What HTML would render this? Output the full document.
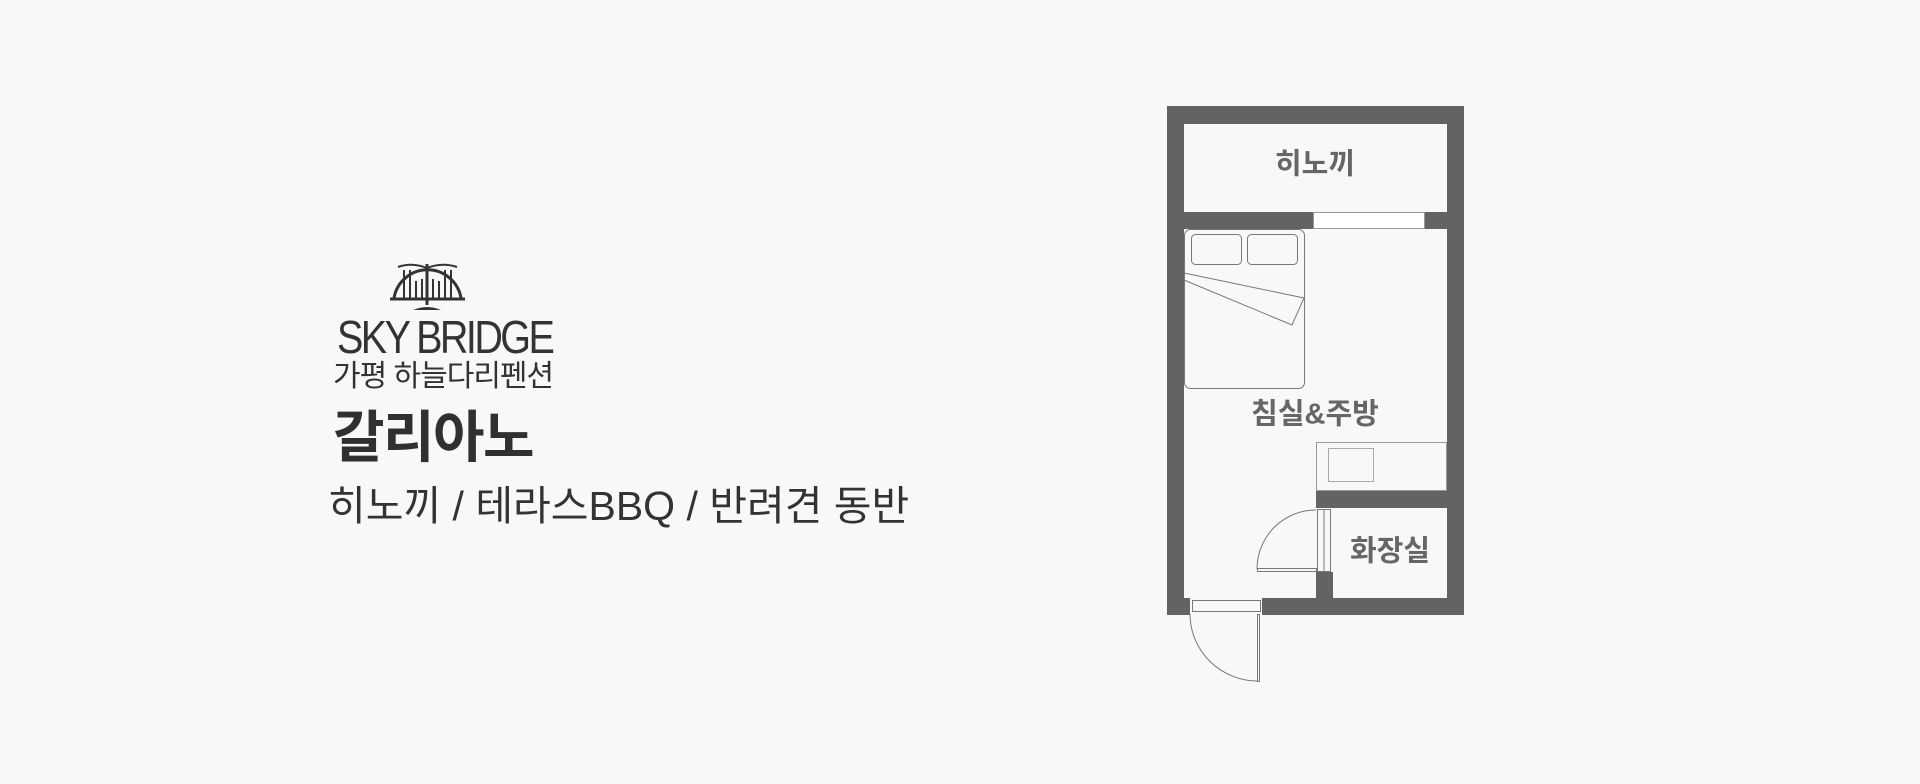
<!DOCTYPE html>
<html><head><meta charset="utf-8"><style>
body{margin:0;width:1920px;height:784px;background:#f8f8f8;overflow:hidden;position:relative;font-family:"Liberation Sans","Noto Sans CJK KR",sans-serif}
.t{position:absolute;white-space:nowrap;color:#333;line-height:1}
.c{transform:translate(-50%,-50%);font-size:29px;font-weight:bold;color:#666}
</style></head><body>
<svg style="position:absolute;left:0;top:0" width="1920" height="784">
<g stroke="#333" fill="none" stroke-width="2">
<path d="M394 298 A34 34 0 0 1 461 298" stroke-width="3"/>
<line x1="390" y1="299" x2="465" y2="299" stroke-width="3"/>
<line x1="404" y1="270" x2="404" y2="298"/><line x1="451" y1="270" x2="451" y2="298"/>
<line x1="410" y1="270" x2="410" y2="298"/><line x1="445" y1="270" x2="445" y2="298"/>
<line x1="416" y1="281" x2="416" y2="298"/><line x1="422" y1="279" x2="422" y2="298"/><line x1="433" y1="279" x2="433" y2="298"/><line x1="439" y1="281" x2="439" y2="298"/>
<line x1="427" y1="264" x2="427" y2="305" stroke-width="3"/>
<path d="M398 267 Q412 262 427 268 Q442 262 457 267"/>
</g>
<path d="M413 310 Q427 304 441 310 Z" fill="#333"/>
<g fill="#636363">
<rect x="1167" y="106" width="297" height="18"/>
<rect x="1167" y="106" width="17" height="509"/>
<rect x="1447" y="106" width="17" height="509"/>
<rect x="1167" y="212" width="146" height="17"/>
<rect x="1424" y="212" width="40" height="17"/>
<rect x="1262" y="598" width="202" height="17"/>
<rect x="1167" y="598" width="23" height="17"/>
<rect x="1316" y="491" width="148" height="17"/>
<rect x="1316" y="572" width="17" height="26"/>
</g>
<g stroke="#777" stroke-width="1" fill="none">
<rect x="1313.5" y="212.5" width="111" height="16" fill="#fff" stroke="#999"/>
<rect x="1184.5" y="229.5" width="120" height="159" rx="6"/>
<rect x="1191.5" y="234.5" width="50" height="30" rx="4"/>
<rect x="1247.5" y="234.5" width="50" height="30" rx="4"/>
<path d="M1184 273 L1304 298 L1292 325 L1184 280"/>
<rect x="1316.5" y="442.5" width="130" height="48" stroke="#999"/>
<rect x="1328.5" y="448.5" width="45" height="33" stroke="#aaa"/>
<rect x="1317.5" y="509.5" width="13" height="62"/>
<line x1="1324" y1="509" x2="1324" y2="572"/>
<path d="M1316 510 A59 59 0 0 0 1257 569"/>
<rect x="1257.5" y="568.5" width="59" height="3"/>
<rect x="1192.5" y="600.5" width="68" height="11"/>
<path d="M1190 614 A68 67 0 0 0 1258 681"/>
<rect x="1257.5" y="614.5" width="2" height="67"/>
</g>
</svg>
<div class="t" style="left:337px;top:314px;font-size:46px;letter-spacing:-3px;transform:scaleX(0.86);transform-origin:left top">SKY BRIDGE</div>
<div class="t" style="left:333px;top:362px;font-size:30px;letter-spacing:-1px">가평 하늘다리펜션</div>
<div class="t" style="left:333px;top:410px;font-size:56px;font-weight:bold;letter-spacing:-1.5px;color:#303030">갈리아노</div>
<div class="t" style="left:328px;top:486px;font-size:41px;letter-spacing:0px">히노끼 / 테라스BBQ / 반려견 동반</div>
<div class="t c" style="left:1315px;top:165px">히노끼</div>
<div class="t c" style="left:1315px;top:415px">침실&amp;주방</div>
<div class="t c" style="left:1390px;top:552px">화장실</div>
</body></html>
